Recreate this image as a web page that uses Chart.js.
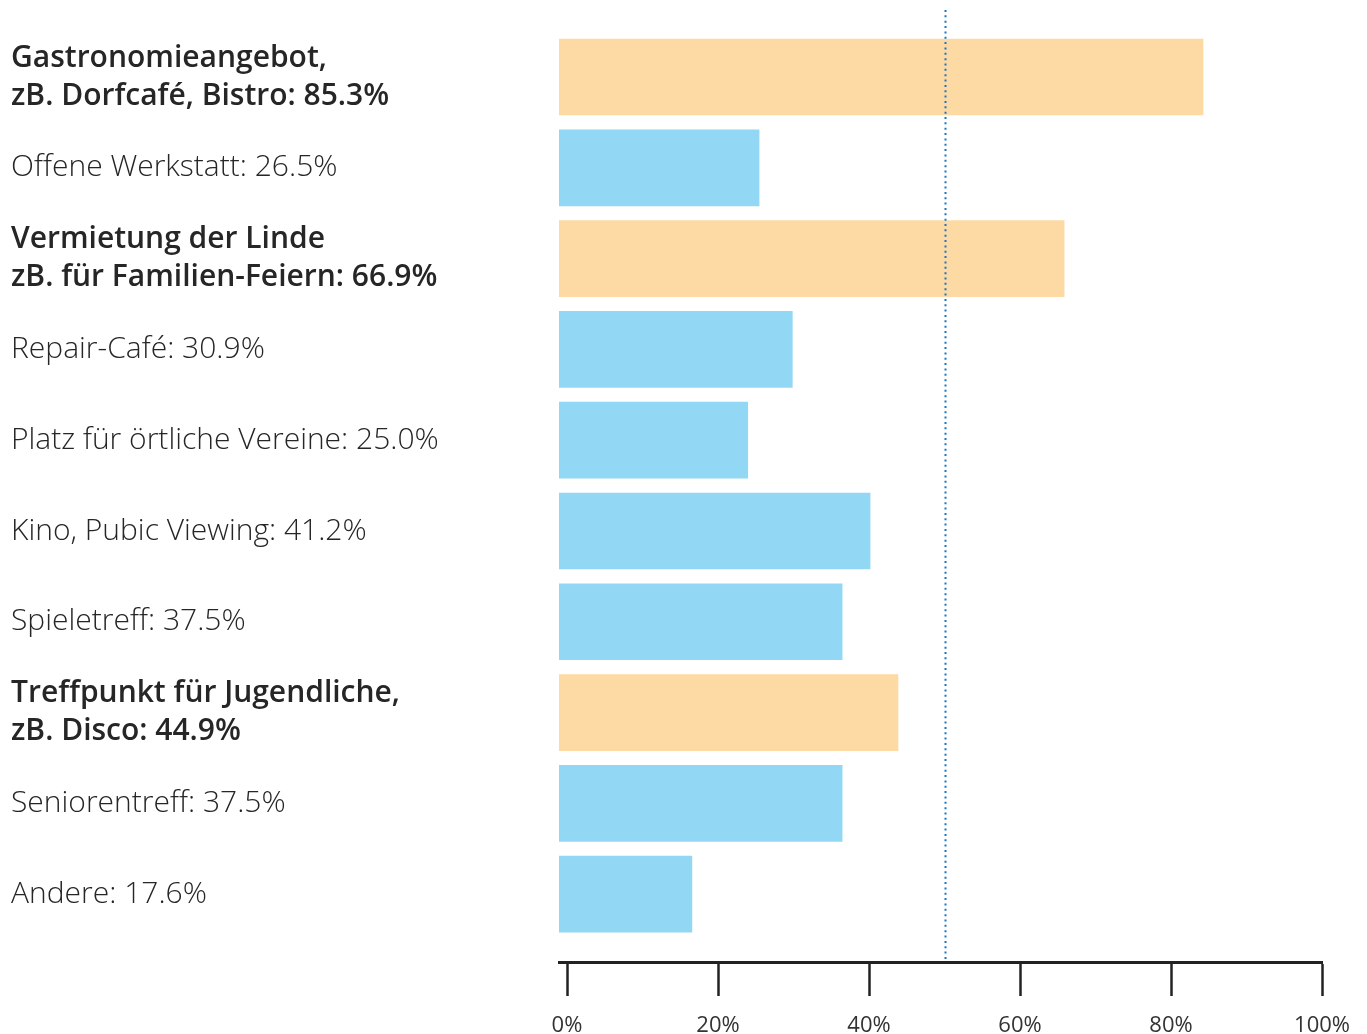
<!DOCTYPE html>
<html>
<head>
<meta charset="utf-8">
<script src="https://cdn.jsdelivr.net/npm/chart.js@4"></script>
<style>
  body { margin: 0; background: #fff; }
  canvas { display: block; }
</style>
</head>
<body>
<canvas id="chart" width="1367" height="1034"></canvas>
<script>
// categories (multi-line names), values in percent, and which ones are highlighted
const names = [
  ['Gastronomieangebot,', 'zB. Dorfcafé, Bistro'],
  ['Offene Werkstatt'],
  ['Vermietung der Linde', 'zB. für Familien-Feiern'],
  ['Repair-Café'],
  ['Platz für örtliche Vereine'],
  ['Kino, Pubic Viewing'],
  ['Spieletreff'],
  ['Treffpunkt für Jugendliche,', 'zB. Disco'],
  ['Seniorentreff'],
  ['Andere']
];
const values = [85.3, 26.5, 66.9, 30.9, 25.0, 41.2, 37.5, 44.9, 37.5, 17.6];
const highlight = [true, false, true, false, false, false, false, true, false, false];
const xTicks = [0, 20, 40, 60, 80, 100];
const markLine = 50;

const ORANGE = '#FDD9A4';
const BLUE = '#92D8F5';
const FONT = '"Open Sans"';

function labelFor(i) {
  const lines = names[i].slice();
  lines[lines.length - 1] += ': ' + values[i].toFixed(1) + '%';
  return lines;
}

// dotted reference line at 50 %
const markPlugin = {
  id: 'markLine',
  afterDatasetsDraw(chart) {
    const ctx = chart.ctx;
    const x = Math.round(chart.scales.x2.getPixelForValue(markLine)) + 0.5;
    ctx.save();
    ctx.strokeStyle = '#1a77c4';
    ctx.lineWidth = 2;
    ctx.setLineDash([2, 3.35]);
    ctx.beginPath();
    ctx.moveTo(x, chart.chartArea.top);
    ctx.lineTo(x, chart.chartArea.bottom);
    ctx.stroke();
    ctx.restore();
  }
};

new Chart(document.getElementById('chart'), {
  type: 'bar',
  data: {
    datasets: [{
      data: values.map((v, i) => ({ x: v, y: i })),
      backgroundColor: values.map((v, i) => highlight[i] ? ORANGE : BLUE),
      barThickness: 76,
      borderWidth: 0
    }]
  },
  options: {
    indexAxis: 'y',
    responsive: false,
    animation: false,
    devicePixelRatio: 1,
    layout: { padding: { left: 11, top: 10, right: 44, bottom: 0 } },
    plugins: { legend: { display: false }, tooltip: { enabled: false } },
    scales: {
      y: {
        type: 'linear',
        offset: false,
        reverse: true,
        min: -0.738,
        max: 9.747,
        afterBuildTicks: s => { s.ticks = names.map((n, i) => ({ value: i })); },
        afterFit: s => {
          s.width = 548;
          s.paddingTop = 0;
          s.paddingBottom = 0;
        },
        grid: { display: false },
        border: { display: false },
        ticks: {
          crossAlign: 'far',
          padding: 0,
          color: '#262626',
          callback: v => labelFor(v),
          font: c => ({
            family: FONT,
            size: 30,
            weight: highlight[c.index] ? '600' : '300',
            lineHeight: 1.27
          })
        }
      },
      x: {
        display: false,
        min: 0,
        max: 101.06
      },
      x2: {
        position: 'bottom',
        min: -1.06,
        max: 100,
        afterBuildTicks: s => { s.ticks = xTicks.map(v => ({ value: v })); },
        afterFit: s => { s.height = 72; },
        grid: {
          drawOnChartArea: false,
          tickLength: 34,
          tickWidth: 2.5,
          tickColor: '#222'
        },
        border: { display: true, color: '#222', width: 3 },
        ticks: {
          padding: 17,
          maxRotation: 0,
          color: '#333',
          font: { family: FONT, size: 22 },
          callback: v => v + '%'
        }
      }
    }
  },
  plugins: [markPlugin]
});
</script>
</body>
</html>
